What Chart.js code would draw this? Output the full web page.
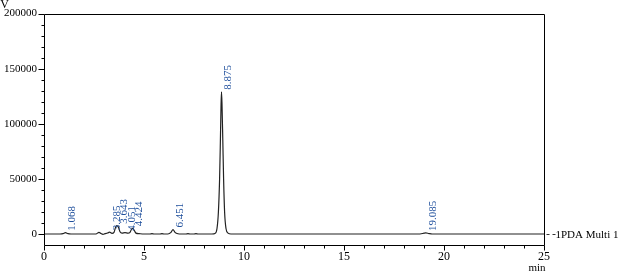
<!DOCTYPE html>
<html>
<head>
<meta charset="utf-8">
<script src="https://cdn.jsdelivr.net/npm/chart.js@4/dist/chart.umd.min.js"></script>
<style>
  html, body { margin: 0; padding: 0; background: #fff; }
  #wrap { width: 623px; height: 274px; position: relative; }
</style>
</head>
<body>
<div id="wrap"><canvas id="c"></canvas></div>
<script>
// retention time (min) and detector signal (uV)
const times = [
  0, 0.8, 0.95, 1.07, 1.2, 1.35,
  2.6, 2.75, 2.85, 2.95, 3.05, 3.18, 3.28, 3.4, 3.5, 3.58, 3.64, 3.72, 3.8, 3.9,
  4.05, 4.2, 4.3, 4.38, 4.44, 4.52, 4.6, 4.75, 5.0,
  5.3, 5.4, 5.5, 5.8, 5.9, 6.0, 6.2, 6.35, 6.45, 6.55, 6.7, 6.85,
  7.1, 7.2, 7.3, 7.5, 7.6, 7.7, 8.4,
  8.55, 8.65, 8.72, 8.78, 8.82, 8.85, 8.875, 8.9, 8.94, 8.98, 9.03, 9.1, 9.2, 9.35,
  18.8, 19.0, 19.085, 19.25, 19.4, 25
];
const signal = [
  0, 0, 300, 1200, 300, 0,
  0, 1500, 400, -300, 300, 900, 1600, 600, 1500, 6000, 7500, 6200, 2000, 700,
  1200, 800, 1500, 4500, 5200, 3000, 800, 300, 0,
  0, 300, 0, 0, 300, 0, 0, 1500, 4000, 1500, 200, 0,
  0, 300, 0, 0, 300, 0, 0,
  500, 5000, 20000, 50000, 85000, 115000, 129000, 118000, 85000, 50000, 20000, 5000, 800, 0,
  0, 700, 1000, 400, 0, 0
];

// labelled peaks
const peakTimes = [1.068, 3.285, 3.643, 4.051, 4.424, 6.451, 8.875, 19.085];
const peakHeights = [1200, 1600, 7500, 1200, 5200, 4000, 129000, 1000];

const xMajor = [0, 5, 10, 15, 20, 25];
const yMajor = [0, 50000, 100000, 150000, 200000];

const serif = '"Liberation Serif", "Times New Roman", serif';

const decor = {
  id: 'decor',
  afterDraw(chart) {
    const { ctx, chartArea: a, scales: { x, y } } = chart;
    ctx.save();
    ctx.strokeStyle = '#000';
    ctx.lineWidth = 1;

    // box round the plot
    const L = Math.round(a.left) + 0.5, R = Math.round(a.right) + 0.5;
    const T = Math.round(a.top) + 0.5, B = Math.round(a.bottom) + 0.5;
    ctx.beginPath();
    ctx.moveTo(L, B); ctx.lineTo(L, T); ctx.lineTo(R, T); ctx.lineTo(R, B); ctx.closePath();
    ctx.stroke();

    // tick marks, long on majors
    ctx.beginPath();
    for (let t = 0; t <= 25; t += 1) {
      const px = Math.round(x.getPixelForValue(t)) + 0.5;
      ctx.moveTo(px, B);
      ctx.lineTo(px, B + (t % 5 === 0 ? 5 : 3));
    }
    for (let v = 0; v <= 200000; v += 10000) {
      const py = Math.round(y.getPixelForValue(v)) + 0.5;
      ctx.moveTo(L, py);
      ctx.lineTo(L - (v % 50000 === 0 ? 6 : 3), py);
    }
    ctx.stroke();

    // retention time labels, rotated
    ctx.fillStyle = '#1f4f9c';
    ctx.font = '11px ' + serif;
    ctx.textAlign = 'left';
    ctx.textBaseline = 'middle';
    peakTimes.forEach((t, i) => {
      const px = x.getPixelForValue(t) + 7;
      const py = y.getPixelForValue(peakHeights[i]) - 2;
      ctx.save();
      ctx.translate(px, py);
      ctx.rotate(-Math.PI / 2);
      ctx.fillText(t.toFixed(3), 0, 0);
      ctx.restore();
    });

    // channel name at the baseline
    const by = Math.round(y.getPixelForValue(0)) + 0.5;
    ctx.strokeStyle = '#333';
    ctx.setLineDash([3, 3]);
    ctx.beginPath();
    ctx.moveTo(R + 2, by);
    ctx.lineTo(R + 11, by);
    ctx.stroke();
    ctx.setLineDash([]);
    ctx.fillStyle = '#000';
    ctx.font = '11px ' + serif;
    ctx.fillText('1PDA Multi 1', R + 11, by + 1);

    // axis units
    ctx.textAlign = 'center';
    ctx.textBaseline = 'alphabetic';
    ctx.fillText('min', 537, 271);
    ctx.font = '12px ' + serif;
    ctx.textAlign = 'right';
    ctx.textBaseline = 'top';
    ctx.fillText('uV', 9, -1);
    ctx.restore();
  }
};

new Chart(document.getElementById('c'), {
  type: 'line',
  data: {
    datasets: [{
      data: times.map((t, i) => ({ x: t, y: signal[i] })),
      borderColor: '#222',
      borderWidth: 1.2,
      pointRadius: 0,
      cubicInterpolationMode: 'monotone',
      fill: false
    }]
  },
  options: {
    responsive: true,
    maintainAspectRatio: false,
    animation: false,
    events: [],
    layout: { padding: { top: 11, right: 79, left: 0, bottom: 0 } },
    plugins: { legend: { display: false }, tooltip: { enabled: false } },
    scales: {
      x: {
        type: 'linear',
        min: 0,
        max: 25,
        afterBuildTicks: s => { s.ticks = xMajor.map(v => ({ value: v })); },
        afterFit: s => { s.height = 29; },
        grid: { display: false, drawTicks: false },
        border: { display: false },
        ticks: { color: '#000', font: { family: serif, size: 12 }, padding: 5, maxRotation: 0,
                 callback: v => String(v) }
      },
      y: {
        min: -10000,
        max: 200000,
        afterBuildTicks: s => { s.ticks = yMajor.map(v => ({ value: v })); },
        afterFit: s => { s.width = 44; },
        grid: { display: false, drawTicks: false },
        border: { display: false },
        ticks: { color: '#000', font: { family: serif, size: 11 }, padding: 7,
                 callback: v => String(v) }
      }
    }
  },
  plugins: [decor]
});
</script>
</body>
</html>
